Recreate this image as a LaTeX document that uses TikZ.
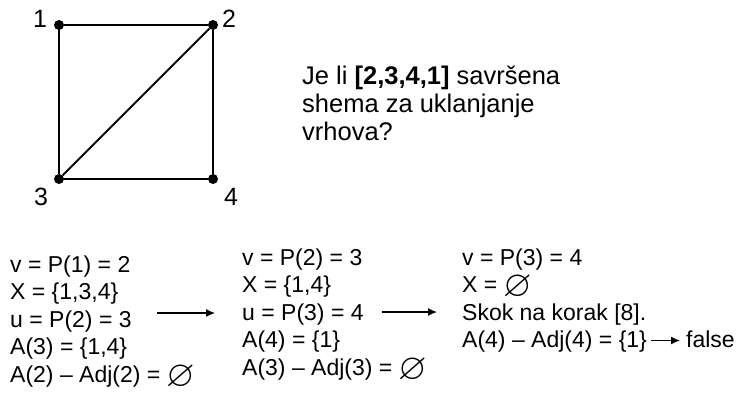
\documentclass[tikz,border=0pt]{standalone}
\usepackage{fontspec}
\usepackage{amssymb}
\setmainfont{Liberation Sans}
\usetikzlibrary{arrows.meta, positioning}
\newcommand{\prazno}{\smash{\raisebox{-4pt}{\scalebox{1.6}{$\varnothing$}}}}

\begin{document}
\begin{tikzpicture}[x=1pt, y=-1pt,
		vertex/.style={circle, fill, inner sep=0pt, minimum size=10pt},
		vlabel/.style={inner sep=0pt, font=\fontsize{25}{28}\selectfont},
		row/.style={anchor=base west, inner sep=0pt, font=\fontsize{23}{26}\selectfont},
		korak/.style={line width=1.3pt, -{Latex[length=9pt, width=8pt]}}]
	\useasboundingbox (0,0) rectangle (749,400);
	% graph
	\node[vertex] (v1) at (59,25) {};
	\node[vertex] (v2) at (213,25) {};
	\node[vertex] (v3) at (59,179) {};
	\node[vertex] (v4) at (213,179) {};
	\draw[line width=1.8pt] (v1) -- (v2) -- (v4) -- (v3) -- (v1) (v3) -- (v2);
	\node[vlabel] (l1) at (40,19) {1};
	\node[vlabel] (l2) at (229,19) {2};
	\node[vlabel] (l3) at (41,197) {3};
	\node[vlabel] (l4) at (231,197) {4};
	% question
	\node[anchor=north west, inner sep=0pt, align=left, font=\fontsize{25.5}{28}\selectfont] (pitanje) at (302,66)
		{Je li \textbf{[2,3,4,1]} savršena\\shema za uklanjanje\\vrhova?};
	% steps
	\foreach \i/\txt in {0/{v = P(1) = 2}, 1/{X = \{1,3,4\}}, 2/{u = P(2) = 3}, 3/{A(3) = \{1,4\}}, 4/{A(2) – Adj(2) = \prazno}}
		\node[row] (a\i) at (10,{272+27.5*\i}) {\txt};
	\foreach \i/\txt in {0/{v = P(2) = 3}, 1/{X = \{1,4\}}, 2/{u = P(3) = 4}, 3/{A(4) = \{1\}}, 4/{A(3) – Adj(3) = \prazno}}
		\node[row] (b\i) at (242,{265+27.5*\i}) {\txt};
	\foreach \i/\txt in {0/{v = P(3) = 4}, 1/{X = \prazno}, 2/{Skok na korak [8].}, 3/{A(4) – Adj(4) = \{1\}}}
		\node[row] (c\i) at (462,{265+27.5*\i}) {\txt};
	\node[row] (kraj) at (686,{265+27.5*3}) {false};
	\coordinate (s1) at (157,313);
	\coordinate (e1) at (215,313);
	\coordinate (s2) at (382,312);
	\coordinate (e2) at (437,312);
	\draw[korak] (s1) -- (e1);
	\draw[korak] (s2) -- (e2);
	\draw[korak] ([xshift=4pt, yshift=7pt]c3.base east) -- ([xshift=-6pt, yshift=7pt]kraj.base west);
\end{tikzpicture}
\end{document}
